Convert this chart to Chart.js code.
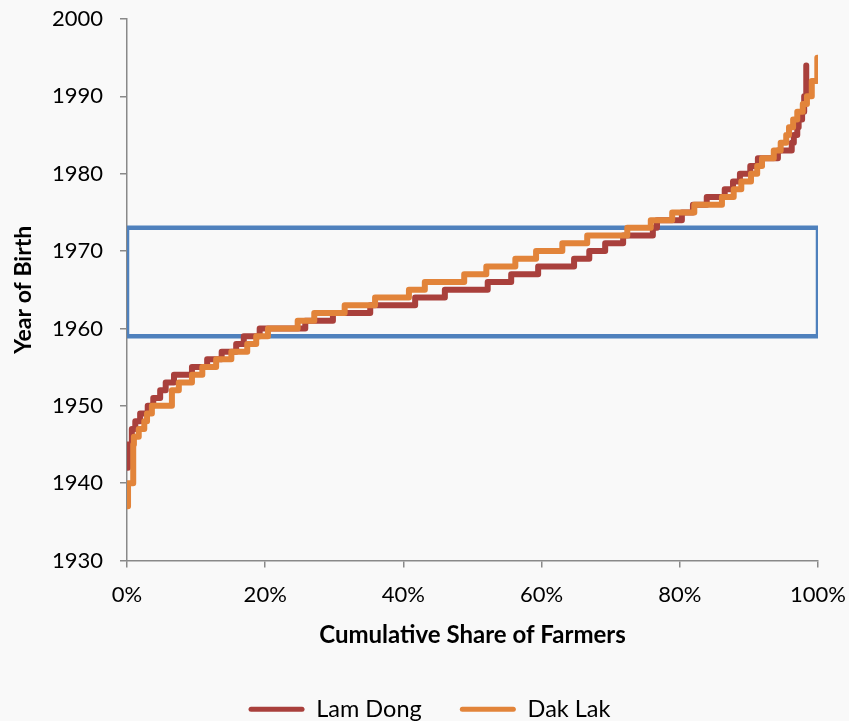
<!DOCTYPE html>
<html>
<head>
<meta charset="utf-8">
<script src="https://cdn.jsdelivr.net/npm/chart.js@4"></script>
<style>
  html, body { margin: 0; padding: 0; background: #f9f9f9; }
  #wrap { width: 849px; height: 721px; }
</style>
</head>
<body>
<div id="wrap"><canvas id="chart"></canvas></div>
<script>
// cumulative share (%) where each birth year level starts
const lamDongShare = [0, 0.15, 0.7, 1.2, 1.9, 3.0, 3.8, 4.8, 5.6, 6.8, 9.4, 11.6, 13.7, 15.8, 16.9, 19.2,
  25.8, 29.8, 35.2, 41.7, 46.0, 52.2, 55.6, 59.5, 64.7, 66.9, 69.2, 71.8, 76.1, 76.7, 80.3,
  81.9, 83.9, 86.5, 87.7, 88.7, 90.2, 91.3, 94.2, 96.2, 96.5, 97.0, 97.2, 97.7, 98.0, 98.3];
const lamDongYear = [1942, 1945, 1947, 1948, 1949, 1950, 1951, 1952, 1953, 1954, 1955, 1956, 1957, 1958, 1959, 1960,
  1961, 1962, 1963, 1964, 1965, 1966, 1967, 1968, 1969, 1970, 1971, 1972, 1973, 1974, 1975,
  1976, 1977, 1978, 1979, 1980, 1981, 1982, 1983, 1984, 1985, 1986, 1987, 1988, 1990, 1994];

const dakLakShare = [0, 0.15, 0.9, 1.0, 1.7, 2.5, 2.9, 3.6, 6.5, 7.5, 9.4, 10.9, 12.9, 15.1, 17.4, 18.7, 20.4,
  24.7, 27.1, 31.5, 35.9, 40.8, 43.1, 48.8, 52.0, 56.2, 59.2, 63.0, 66.6, 72.4, 75.8, 78.9,
  82.1, 86.1, 87.8, 88.9, 90.3, 91.2, 91.9, 93.6, 94.6, 95.4, 95.8, 96.4, 97.0, 97.8, 98.4, 99.1, 99.9];
const dakLakYear = [1937, 1940, 1945, 1946, 1947, 1948, 1949, 1950, 1952, 1953, 1954, 1955, 1956, 1957, 1958, 1959, 1960,
  1961, 1962, 1963, 1964, 1965, 1966, 1967, 1968, 1969, 1970, 1971, 1972, 1973, 1974, 1975,
  1976, 1977, 1978, 1979, 1980, 1981, 1982, 1983, 1984, 1985, 1986, 1987, 1988, 1989, 1990, 1992, 1995];

// highlighted band
const boxShare = [0, 100, 100, 0, 0];
const boxYear = [1959, 1959, 1973, 1973, 1959];

const xTicks = [0, 20, 40, 60, 80, 100];
const yTicks = [1930, 1940, 1950, 1960, 1970, 1980, 1990, 2000];

function toPoints(xs, ys) {
  return xs.map((x, i) => ({ x: x, y: ys[i] }));
}

const axisColor = "#898989";
const font = "Lato, 'Open Sans', sans-serif";

new Chart(document.getElementById("chart"), {
  type: "scatter",
  data: {
    datasets: [
      {
        label: "Lam Dong",
        data: toPoints(lamDongShare, lamDongYear),
        showLine: true,
        stepped: "before",
        borderColor: "#a9403c",
        backgroundColor: "#a9403c",
        borderWidth: 6,
        borderJoinStyle: "round",
        borderCapStyle: "round",
        pointRadius: 0,
        order: 2
      },
      {
        label: "Dak Lak",
        data: toPoints(dakLakShare, dakLakYear),
        showLine: true,
        stepped: "before",
        borderColor: "#e2843a",
        backgroundColor: "#e2843a",
        borderWidth: 6,
        borderJoinStyle: "round",
        borderCapStyle: "round",
        pointRadius: 0,
        order: 1
      },
      {
        label: "box",
        data: toPoints(boxShare, boxYear),
        showLine: true,
        borderColor: "#4f81bd",
        borderWidth: 4.5,
        pointRadius: 0,
        order: 3
      }
    ]
  },
  options: {
    responsive: true,
    maintainAspectRatio: false,
    animation: false,
    layout: { padding: { left: 10, right: 0, top: 19, bottom: -10 } },
    plugins: {
      tooltip: { enabled: false },
      legend: {
        position: "bottom",
        labels: {
          filter: item => item.text !== "box",
          sort: (a, b) => a.datasetIndex - b.datasetIndex,
          // thin rounded marker, and a wider gap after the first entry
          generateLabels: chart =>
            Chart.defaults.plugins.legend.labels.generateLabels(chart).map(l =>
              Object.assign(l, { lineWidth: 0, text: l.datasetIndex === 0 ? l.text + "      " : l.text })),
          boxWidth: 56,
          boxHeight: 5,
          useBorderRadius: true,
          borderRadius: 2.5,
          padding: 2,
          color: "#000",
          font: { family: font, size: 23.5 }
        }
      }
    },
    scales: {
      x: {
        type: "linear",
        min: 0,
        max: 100,
        afterBuildTicks: s => { s.ticks = xTicks.map(v => ({ value: v })); },
        afterFit: s => { s.height = 135; s.paddingLeft = 0; s.paddingRight = 31; },
        ticks: {
          callback: v => v + "%",
          color: "#000",
          font: { family: font, size: 22 },
          padding: 14,
          maxRotation: 0
        },
        grid: { drawOnChartArea: false, tickLength: 7, color: axisColor, lineWidth: 1.5 },
        border: { color: axisColor, width: 1.5 },
        title: {
          display: true,
          text: "Cumulative Share of Farmers",
          color: "#000",
          font: { family: font, size: 24, weight: "bold" },
          padding: { top: 0, bottom: 46 }
        }
      },
      y: {
        type: "linear",
        min: 1930,
        max: 2000,
        afterBuildTicks: s => { s.ticks = yTicks.map(v => ({ value: v })); },
        afterFit: s => { s.width = 117; s.paddingTop = 0; s.paddingBottom = 0; },
        ticks: {
          callback: v => String(v),
          color: "#000",
          font: { family: font, size: 22 },
          padding: 17
        },
        grid: { drawOnChartArea: false, tickLength: 7, color: axisColor, lineWidth: 1.5 },
        border: { color: axisColor, width: 1.5 },
        title: {
          display: true,
          text: "Year of Birth",
          color: "#000",
          font: { family: font, size: 23, weight: "bold" },
          padding: { top: 0, bottom: 0 }
        }
      }
    }
  }
});
</script>
</body>
</html>
